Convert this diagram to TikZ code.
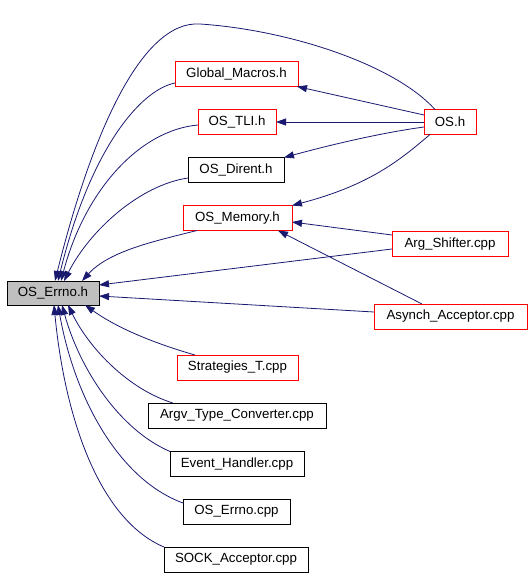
\documentclass[tikz,border=0pt]{standalone}
\usepackage{fontspec}
\setmainfont{Liberation Sans}
\usetikzlibrary{arrows.meta}
\definecolor{include color}{HTML}{191970}
\definecolor{documented color}{HTML}{FF0000}
\colorlet{current file color}{black!25}
\tikzset{
    x={1pt},
    y={-1pt},
    file box/.style={
        draw={#1},
        line width={1pt},
        inner sep=0pt,
        outer sep=0pt,
        minimum height={25},
        font={\fontsize{13.3}{16}\selectfont},
    },
    file box/.default={black},
    current file/.style={
        file box={black},
        fill=current file color,
        minimum height={24},
    },
    include edge/.style={
        draw=include color,
        line width={0.8pt},
        -{Triangle[length=10pt,width=7pt]},
    },
}

\begin{document}
\begin{tikzpicture}
\useasboundingbox (0,0) rectangle (531,576);
% files
\node[current file, minimum width={92}] (errno) at (53,293) {OS\_Errno.h};
\node[file box={documented color}, minimum width={123}] (globalmacros) at (236.5,74) {Global\_Macros.h};
\node[file box={documented color}, minimum width={78}] (tli) at (237,122) {OS\_TLI.h};
\node[file box, minimum width={96}] (dirent) at (236,170) {OS\_Dirent.h};
\node[file box={documented color}, minimum width={109}] (memory) at (237.5,218) {OS\_Memory.h};
\node[file box={documented color}, minimum width={52}] (os) at (450,122) {OS.h};
\node[file box={documented color}, minimum width={116}] (argshifter) at (450,244) {Arg\_Shifter.cpp};
\node[file box={documented color}, minimum width={153}] (asynch) at (450.5,316.5) {Asynch\_Acceptor.cpp};
\node[file box={documented color}, minimum width={121}] (strategies) at (237.5,367.5) {Strategies\_T.cpp};
\node[file box, minimum width={178}] (argv) at (237,415.5) {Argv\_Type\_Converter.cpp};
\node[file box, minimum width={134}] (eventhandler) at (237,464) {Event\_Handler.cpp};
\node[file box, minimum width={107}] (errnocpp) at (236.5,511.5) {OS\_Errno.cpp};
\node[file box, minimum width={144}] (sockacceptor) at (236,559.5) {SOCK\_Acceptor.cpp};
% includes of OS_Errno.h
\draw[include edge] ([xshift=-15pt]os.north) .. controls (395,65) and (290,30) .. (200,24)
    .. controls (140,20) and (90,140) .. ([xshift=2pt]errno.north);
\draw[include edge] ([yshift=-9pt]globalmacros.west) .. controls (140,90) and (90,150) .. ([xshift=5pt]errno.north);
\draw[include edge] ([yshift=-3pt]tli.west) .. controls (140,130) and (85,190) .. ([xshift=8pt]errno.north);
\draw[include edge] ([yshift=-8pt]dirent.west) .. controls (140,185) and (90,230) .. ([xshift=11pt]errno.north);
\draw[include edge] ([xshift=14pt]memory.south west) .. controls (160,240) and (110,250) .. ([xshift=29pt]errno.north);
\draw[include edge] ([yshift=-5pt]argshifter.west) -- ([yshift=8pt]errno.east);
\draw[include edge] ([yshift=4.5pt]asynch.west) -- ([yshift=-3pt]errno.east);
\draw[include edge] ([xshift=18pt]strategies.north west) .. controls (160,345) and (120,330) .. ([xshift=32pt]errno.south);
\draw[include edge] ([xshift=25pt]argv.north west) .. controls (130,390) and (90,350) .. ([xshift=15pt]errno.south);
\draw[include edge] (eventhandler.north west) .. controls (120,430) and (80,370) .. ([xshift=9pt]errno.south);
\draw[include edge] ([yshift=-4pt]errnocpp.north west) .. controls (120,480) and (75,400) .. ([xshift=5pt]errno.south);
\draw[include edge] (sockacceptor.north west) .. controls (100,520) and (65,420) .. ([xshift=1pt]errno.south);
% includes of the other headers
\draw[include edge] ([yshift=7pt]os.west) -- ([xshift=-1pt]globalmacros.south east);
\draw[include edge] (os.west) -- (tli.east);
\draw[include edge] ([yshift=-5pt]os.west) .. controls (380,133) and (330,145) .. (dirent.north east);
\draw[include edge] ([xshift=-20pt]os.south) .. controls (400,160) and (370,185) .. (memory.north east);
\draw[include edge] ([yshift=9pt]argshifter.west) -- ([yshift=-4pt]memory.east);
\draw[include edge] ([xshift=-28.5pt]asynch.north) -- ([xshift=40.5pt]memory.south);
\end{tikzpicture}
\end{document}
